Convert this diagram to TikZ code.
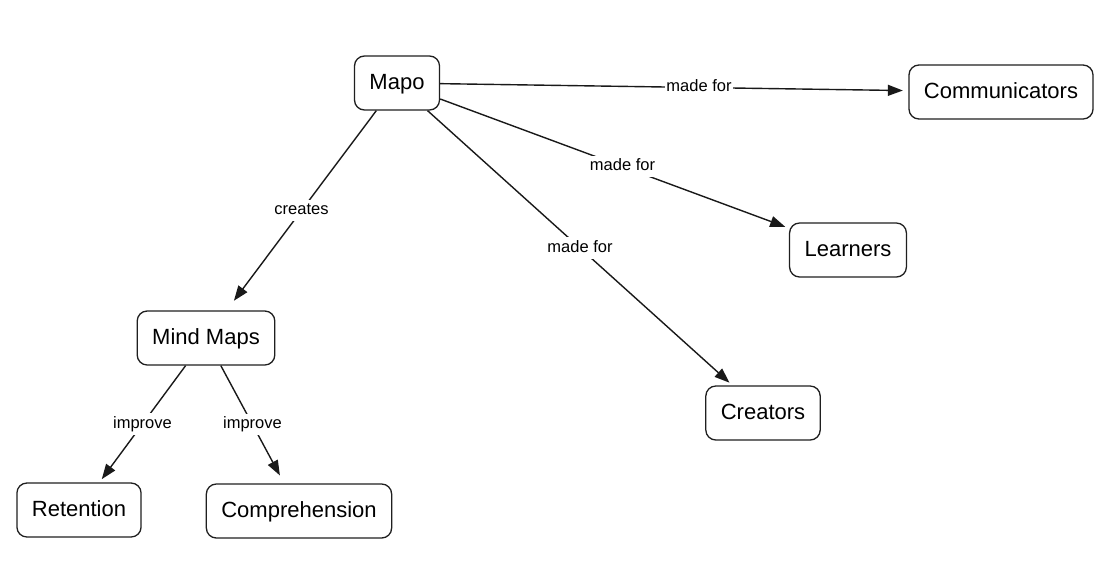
\documentclass[tikz,border=0pt]{standalone}
\usepackage{fontspec}
\setmainfont{Liberation Sans}
\usepackage{tikz}
\usetikzlibrary{positioning,arrows.meta,calc}

\begin{document}
\begin{tikzpicture}[x=1pt, y=-1pt,
    concept/.style={draw=black!88, line width=1.3pt, rounded corners=10pt, fill=white,
        minimum height=54pt, inner xsep=15pt, text height=16.5pt, text depth=3.5pt,
        font=\fontsize{22}{26}\selectfont},
    link/.style={draw=black!90, line width=1.4pt, -{Triangle[length=15pt,width=11pt]}, shorten >=4pt},
    linklabel/.style={fill=white, inner xsep=1pt, inner ysep=3pt, text height=12pt, text depth=3.5pt,
        font=\fontsize{16.5}{20}\selectfont}]
    \useasboundingbox (0,0) rectangle (1115,566);

    % Concepts
    \node[concept] (mapo) at (397,83) {Mapo};
    \node[concept] (comm) at (1001,92) {Communicators};
    \node[concept] (learn) at (848,250) {Learners};
    \node[concept] (create) at (763,413) {Creators};
    \node[concept] (mind) at (206,338) {Mind Maps};
    \node[concept] (retain) at (79,510) {Retention};
    \node[concept] (compre) at (299,511) {Comprehension};

    % Links
    \draw[link, shorten >=5.5pt] (mapo) -- (comm);
    \draw[link] (mapo) -- (learn);
    \draw[link] (mapo) -- (create);
    \draw[link, shorten >=12pt] (mapo) -- (mind);
    \draw[link] (mind) -- (retain);
    \draw[link, shorten >=9pt] (mind) -- (compre);

    % Link labels
    \node[linklabel] (lcomm) at ($(mapo)!0.5!(comm)$) {made for};
    \node[linklabel] (llearn) at ($(mapo)!0.5!(learn)$) {made for};
    \node[linklabel] (lcreate) at ($(mapo)!0.5!(create)$) {made for};
    \node[linklabel] (lmind) at ($(mapo)!0.5!(mind)$) {creates};
    \node[linklabel] (lretain) at ($(mind)!0.5!(retain)$) {improve};
    \node[linklabel] (lcompre) at ($(mind)!0.5!(compre)$) {improve};
\end{tikzpicture}
\end{document}
